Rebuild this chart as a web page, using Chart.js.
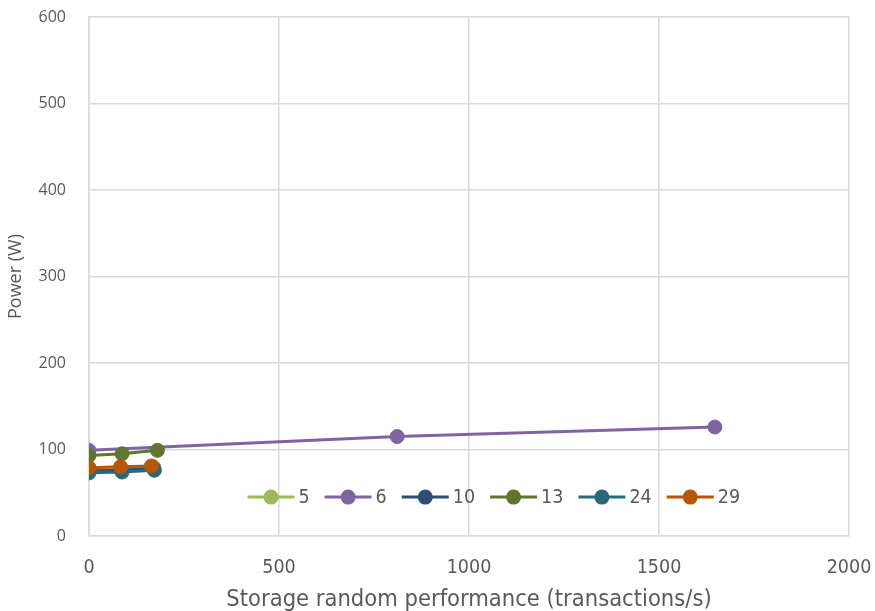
<!DOCTYPE html>
<html>
<head>
<meta charset="utf-8">
<script src="https://cdn.jsdelivr.net/npm/chart.js@4.4.1/dist/chart.umd.min.js"></script>
<style>
  html, body { margin: 0; padding: 0; background: #fff; }
  #wrap { width: 875px; height: 611px; }
</style>
</head>
<body>
<div id="wrap"><canvas id="c" width="875" height="611"></canvas></div>
<script>
// Series names (number of VMs per run)
const seriesNames = ['5', '6', '10', '13', '24', '29'];

// Storage random performance (transactions/s) per series
const x5  = [0, 85, 170];
const x6  = [0, 811, 1647];
const x10 = [0, 85, 170];
const x13 = [0, 87, 180];
const x24 = [0, 87, 172];
const x29 = [0, 83, 164];

// Power (W) per series
const y5  = [77, 78, 80];
const y6  = [99, 115, 126];
const y10 = [75, 76, 78];
const y13 = [93, 95, 99];
const y24 = [73, 74, 76];
const y29 = [79, 80, 81];

const xTicks = [0, 500, 1000, 1500, 2000];
const yTicks = [0, 100, 200, 300, 400, 500, 600];

const colors = ['#9BBB59', '#8064A2', '#2C4D75', '#5F7530', '#276A7C', '#B65708'];

const xs = [x5, x6, x10, x13, x24, x29];
const ys = [y5, y6, y10, y13, y24, y29];

const datasets = seriesNames.map((name, i) => ({
  label: name,
  data: xs[i].map((x, k) => ({ x: x, y: ys[i][k] })),
  showLine: true,
  borderColor: colors[i],
  backgroundColor: colors[i],
  pointBackgroundColor: colors[i],
  pointBorderColor: colors[i],
  borderWidth: 3,
  pointRadius: 7,
  pointBorderWidth: 1,
  pointHoverRadius: 7,
  order: seriesNames.length - 1 - i
}));

const textColor = '#595959';
const gridColor = '#D9D9D9';
const narrowFont = '"DejaVu Sans Condensed", "Liberation Sans Narrow", Lato, sans-serif';

// Legend drawn inside the plot area, one row along the lower part
const insideLegend = {
  id: 'insideLegend',
  afterDraw(chart) {
    const ctx = chart.ctx;
    const y = chart.scales.y.getPixelForValue(45);
    let x = chart.scales.x.getPixelForValue(417);
    ctx.save();
    ctx.font = '19.5px ' + narrowFont;
    ctx.textBaseline = 'middle';
    ctx.textAlign = 'left';
    chart.data.datasets.forEach(ds => {
      ctx.strokeStyle = ds.borderColor;
      ctx.lineWidth = 3;
      ctx.beginPath();
      ctx.moveTo(x, y);
      ctx.lineTo(x + 47, y);
      ctx.stroke();
      ctx.fillStyle = ds.pointBackgroundColor;
      ctx.beginPath();
      ctx.arc(x + 23.5, y, 7.5, 0, Math.PI * 2);
      ctx.fill();
      ctx.fillStyle = textColor;
      ctx.fillText(ds.label, x + 51, y + 1);
      const w = ctx.measureText(ds.label).width;
      x += 51 + w + 15;
    });
    ctx.restore();
  }
};

// Keep tick-label overhang from shrinking the plot area
const noOverhang = s => { s.paddingTop = 0; s.paddingBottom = 0; s.paddingLeft = 0; s.paddingRight = 0; };

new Chart(document.getElementById('c'), {
  type: 'scatter',
  data: { datasets: datasets },
  options: {
    responsive: false,
    animation: false,
    layout: { padding: { top: 17, right: 26, left: 0, bottom: 0 } },
    plugins: {
      legend: { display: false },
      tooltip: { enabled: false }
    },
    scales: {
      x: {
        type: 'linear',
        min: 0,
        max: 2000,
        afterBuildTicks: s => { s.ticks = xTicks.map(v => ({ value: v })); },
        afterFit: s => { s.height = 75; noOverhang(s); },
        grid: { color: gridColor, lineWidth: 1.5, drawTicks: false },
        border: { color: gridColor, width: 1.5 },
        ticks: {
          color: textColor,
          padding: 20,
          maxRotation: 0,
          callback: v => String(v),
          font: { family: narrowFont, size: 19.5 }
        },
        title: {
          display: true,
          text: 'Storage random performance (transactions/s)',
          color: textColor,
          padding: { top: 0, bottom: -3 },
          font: { family: narrowFont, size: 23.5 }
        }
      },
      y: {
        type: 'linear',
        min: 0,
        max: 600,
        afterBuildTicks: s => { s.ticks = yTicks.map(v => ({ value: v })); },
        afterFit: s => { s.width = 89; noOverhang(s); },
        grid: { color: gridColor, lineWidth: 1.5, drawTicks: false },
        border: { color: gridColor, width: 1.5 },
        ticks: {
          color: textColor,
          padding: 23,
          callback: v => String(v),
          font: { family: '"Open Sans", sans-serif', size: 16 }
        },
        title: {
          display: true,
          text: 'Power (W)',
          color: textColor,
          padding: { top: 5, bottom: 0 },
          font: { family: '"Open Sans", sans-serif', size: 18 }
        }
      }
    }
  },
  plugins: [insideLegend]
});
</script>
</body>
</html>
